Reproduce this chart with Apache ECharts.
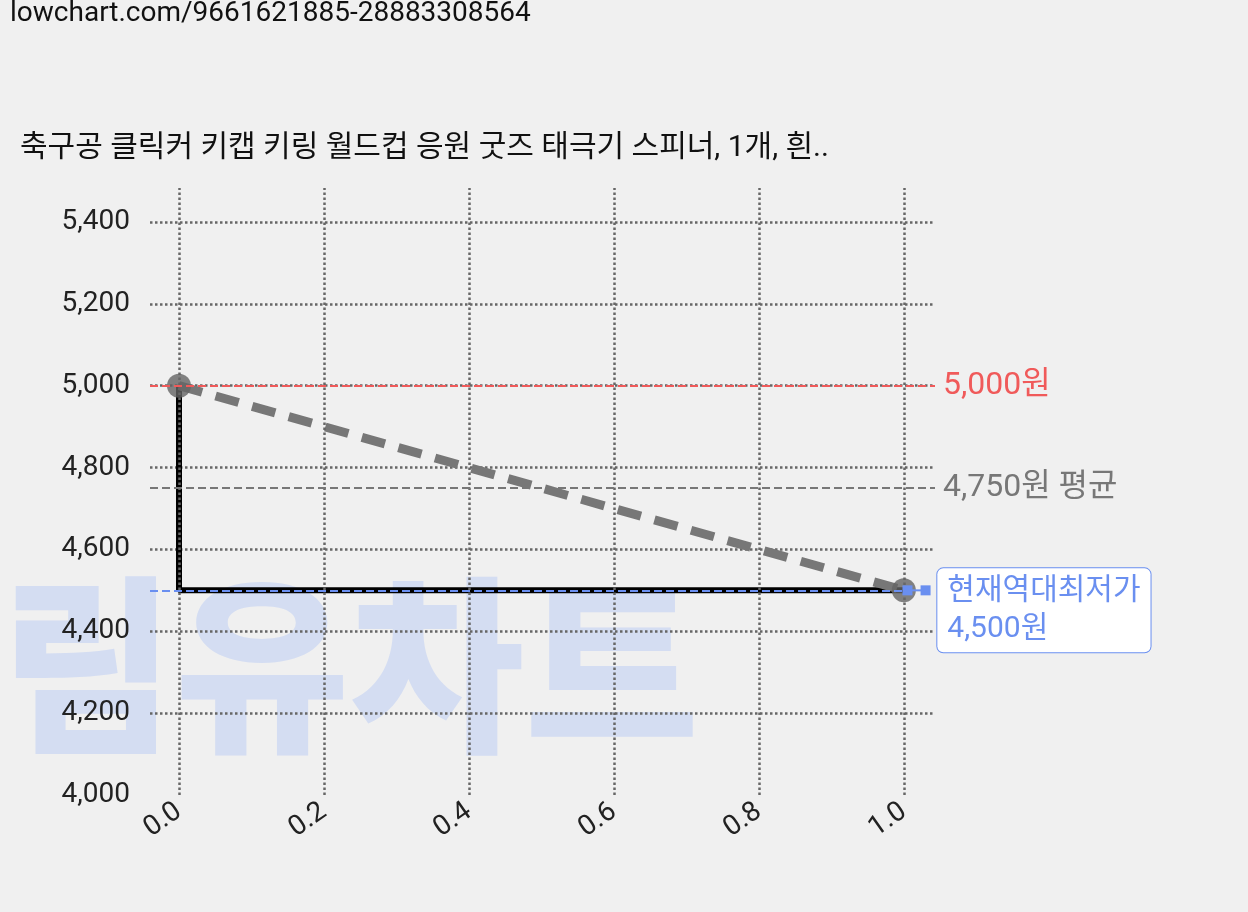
<!DOCTYPE html><html><head><meta charset="utf-8"><script src="https://cdn.jsdelivr.net/npm/echarts@6/dist/echarts.min.js"></script>
<style>body{margin:0;background:#f0f0f0}#c{width:1248px;height:912px}</style></head><body><div id="c"></div><script>
const xTicks=[0,0.2,0.4,0.6,0.8,1.0];
const stepLine=[[0,5000],[0,4500],[1,4500]];
const trendLine=[[0,5000],[1,4500]];
const maxPrice=5000, avgPrice=4750, minPrice=4500;
const title='축구공 클릭커 키캡 키링 월드컵 응원 굿즈 태극기 스피너, 1개, 흰..';
const url='lowchart.com/9661621885-28883308564';
const c=echarts.init(document.getElementById('c'));
const F='Roboto, "Noto Sans CJK KR", sans-serif';
c.setOption({
backgroundColor:'#f0f0f0',animation:false,
graphic:[
{type:'text',left:10,top:0,style:{text:url,fontSize:28,fontFamily:F,fill:'#111'}},
{type:'text',left:20,top:134,style:{text:title,fontSize:30,fontFamily:F,fill:'#111'}},
{type:'text',left:0,top:570,z:-1,style:{text:'림유차트',fontSize:190,fontWeight:900,fontFamily:'"Noto Sans CJK KR"',fill:'#d4ddf2'}}
],
grid:{left:150,right:313,top:188,bottom:117},
xAxis:{type:'value',min:-0.04,max:1.043,axisLine:{show:false},axisTick:{show:false},splitLine:{show:false},
 axisLabel:{customValues:xTicks,rotate:35,fontSize:28,color:'#222',fontFamily:F,formatter:v=>v.toFixed(1),margin:14}},
yAxis:{type:'value',min:4000,max:5483,interval:200,axisLine:{show:false},axisTick:{show:false},
 axisLabel:{fontSize:28,color:'#222',fontFamily:F,formatter:v=>v.toLocaleString('en-US'),showMaxLabel:false,margin:20},
 splitLine:{showMinLine:false,showMaxLine:false,lineStyle:{color:'#666',type:'dotted',width:2.5}}},
series:[
{type:'line',data:[],z:1,
 markLine:{silent:true,symbol:'none',label:{show:false},lineStyle:{color:'#666',type:'dotted',width:2.5},data:xTicks.map(v=>({xAxis:v}))}},
{type:'line',data:stepLine,symbol:'none',lineStyle:{color:'#000',width:6},z:3},
{type:'line',data:trendLine,symbol:'circle',symbolSize:24,itemStyle:{color:'rgba(100,100,100,0.8)'},lineStyle:{color:'#777',width:9,type:[24,14]},z:4,
 markLine:{silent:true,symbol:'none',data:[
  {yAxis:maxPrice,lineStyle:{color:'#f05a5a',type:'dashed',width:2},label:{formatter:'5,000원',color:'#f05a5a',fontSize:32,fontFamily:F,position:'end',distance:8}},
  {yAxis:avgPrice,lineStyle:{color:'#777',type:'dashed',width:2},label:{formatter:'4,750원 평균',color:'#777',fontSize:32,fontFamily:F,position:'end',distance:8}},
  [{coord:[-0.04,minPrice],lineStyle:{color:'#6a8ff0',type:'dashed',width:2}},{coord:[1,minPrice]}]
 ],label:{show:true}},
 markPoint:{symbol:'rect',symbolSize:1,data:[{coord:[1,minPrice],label:{show:true,position:'right',offset:[28,20],formatter:'현재역대최저가\n4,500원',color:'#6a8ff0',fontSize:30,fontFamily:F,lineHeight:38,backgroundColor:'#fff',borderColor:'#6a8ff0',borderWidth:1,borderRadius:6,padding:[4,10]}}]}},
{type:'line',data:[[1.03,minPrice],[1.005,minPrice]],symbol:['none','arrow'],symbolSize:10,itemStyle:{color:'#6a8ff0'},lineStyle:{color:'#6a8ff0',width:2},z:5}
]});
</script></body></html>
